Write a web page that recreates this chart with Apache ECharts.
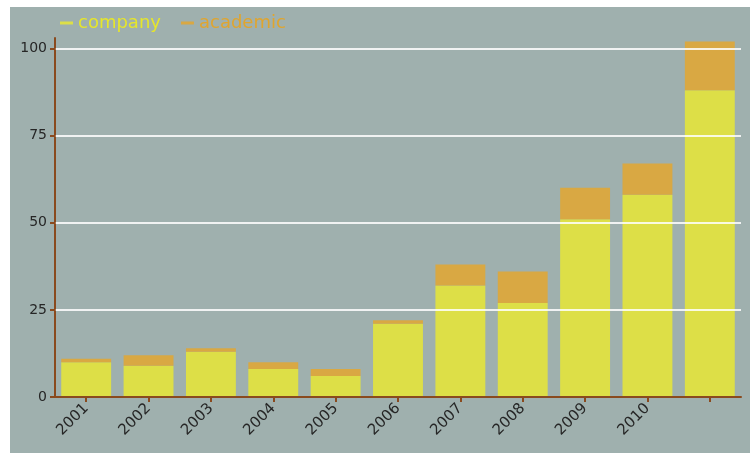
<!DOCTYPE html>
<html>
<head>
<meta charset="utf-8">
<script src="https://cdn.jsdelivr.net/npm/echarts@6/dist/echarts.min.js"></script>
<style>
html,body{margin:0;padding:0;background:#ffffff;width:750px;height:453px;overflow:hidden;}
#c{position:absolute;left:10px;top:7px;width:740px;height:446px;}
</style>
</head>
<body>
<div id="c"></div>
<script>
const years = ['2001','2002','2003','2004','2005','2006','2007','2008','2009','2010',''];
const company = [10, 9, 13, 8, 6, 21, 32, 27, 51, 58, 88];
const academic = [1, 3, 1, 2, 2, 1, 6, 9, 9, 9, 14];
const yTicks = [0, 25, 50, 75, 100];

const chart = echarts.init(document.getElementById('c'), null, {renderer: 'canvas'});
const axisBrown = '#8a4a1e';
chart.setOption({
  backgroundColor: '#9fb0ae',
  animation: false,
  textStyle: {fontFamily: 'DejaVu Sans'},
  legend: {
    left: 45, top: 2,
    icon: 'rect', itemWidth: 13, itemHeight: 3, itemGap: 20,
    data: [
      {name: 'company', textStyle: {color: '#e6e62a'}},
      {name: 'academic', textStyle: {color: '#e0a52e'}}
    ],
    textStyle: {fontSize: 18, fontFamily: 'DejaVu Sans'}
  },
  grid: {left: 45, right: 9, top: 31, bottom: 56},
  xAxis: {
    type: 'category',
    data: years,
    z: 5,
    axisLine: {lineStyle: {color: axisBrown, width: 2}},
    axisTick: {show: true, alignWithLabel: true, length: 5, lineStyle: {color: axisBrown, width: 2}},
    axisLabel: {rotate: 45, fontSize: 15, color: '#262626', margin: 9}
  },
  yAxis: {
    type: 'value',
    min: 0, max: 103, interval: 25,
    z: 4,
    axisLine: {show: true, lineStyle: {color: axisBrown, width: 2}},
    axisTick: {show: true, length: 5, customValues: yTicks, lineStyle: {color: axisBrown, width: 2}},
    axisLabel: {fontSize: 14, color: '#262626', margin: 8, customValues: yTicks},
    splitLine: {lineStyle: {color: 'rgba(255,255,255,0.8)', width: 2}}
  },
  series: [
    {name: 'company', type: 'bar', stack: 'total', data: company,
     barCategoryGap: '20%', itemStyle: {color: '#e3e43c', opacity: 0.9}},
    {name: 'academic', type: 'bar', stack: 'total', data: academic,
     itemStyle: {color: '#dfa737', opacity: 0.9},
     markLine: {
       silent: true, symbol: 'none', label: {show: false},
       lineStyle: {color: 'rgba(255,255,255,0.22)', width: 2, type: 'solid'},
       data: yTicks.filter(v => v > 0).map(v => ({yAxis: v}))
     }}
  ]
});
</script>
</body>
</html>
